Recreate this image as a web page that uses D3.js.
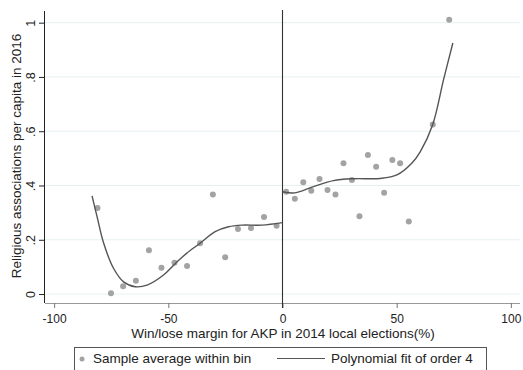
<!DOCTYPE html>
<html>
<head>
<meta charset="utf-8">
<script src="https://cdn.jsdelivr.net/npm/d3@7"></script>
<style>
  body { margin: 0; background: #fff; }
  text { font-family: "Liberation Sans", Arial, sans-serif; fill: #222; }
</style>
</head>
<body>
<div id="viz-container"></div>
<script>
// binned sample averages
const binX = [-81.0, -75.1, -69.8, -64.2, -58.5, -53.0, -47.3, -41.8, -36.1, -30.5, -25.1, -19.5, -13.8, -8.1, -2.6,
  1.6, 5.4, 9.1, 12.6, 16.2, 19.7, 23.2, 26.7, 30.4, 33.7, 37.4, 41.0, 44.5, 48.1, 51.5, 55.3, 65.8, 73.0];
const binY = [0.317, 0.003, 0.029, 0.049, 0.161, 0.097, 0.115, 0.103, 0.187, 0.367, 0.136, 0.240, 0.243, 0.284, 0.252,
  0.377, 0.351, 0.412, 0.381, 0.424, 0.383, 0.367, 0.482, 0.420, 0.287, 0.512, 0.469, 0.373, 0.494, 0.482, 0.267, 0.625, 1.011];

// polynomial fit (left and right of the cutoff)
const fitLeftX = [-83.4, -81.2, -78.3, -74.0, -69.6, -64.5, -59.3, -52.1, -47.0, -42.0, -36.1, -29.5, -23.6, -17.8, -9.0, 0];
const fitLeftY = [0.362, 0.285, 0.187, 0.095, 0.045, 0.027, 0.033, 0.070, 0.112, 0.150, 0.187, 0.230, 0.248, 0.254, 0.254, 0.263];
const fitRightX = [0, 5.5, 13.6, 22.3, 31.1, 42.8, 50.1, 56.6, 60.3, 65.8, 70.5, 74.6];
const fitRightY = [0.377, 0.373, 0.396, 0.418, 0.425, 0.426, 0.439, 0.482, 0.524, 0.625, 0.789, 0.925];

const xTicks = [-100, -50, 0, 50, 100];
const yTicks = [0, 0.2, 0.4, 0.6, 0.8, 1];
const yTickLabels = ['0', '.2', '.4', '.6', '.8', '1'];

const xTitle = 'Win/lose margin for AKP in 2014 local elections(%)';
const yTitle = 'Religious associations per capita in 2016';
const legendLabels = ['Sample average within bin', 'Polynomial fit of order 4'];

const W = 523, H = 370;
const plot = {left: 45, right: 520, top: 11, bottom: 303};

const svg = d3.select('#viz-container')
  .append('svg')
  .attr('width', W)
  .attr('height', H);

const x = d3.scaleLinear().domain([-104, 104]).range([plot.left, plot.right]);
const y = d3.scaleLinear().domain([-0.033, 1.043]).range([plot.bottom, plot.top]);

// gridlines
svg.append('g')
  .selectAll('line')
  .data(yTicks)
  .join('line')
  .attr('x1', plot.left)
  .attr('x2', plot.right)
  .attr('y1', d => y(d))
  .attr('y2', d => y(d))
  .attr('stroke', '#e6f0f1')
  .attr('stroke-width', 1);

// x axis
const xAxis = svg.append('g')
  .attr('transform', `translate(0,${plot.bottom})`)
  .call(d3.axisBottom(x).tickValues(xTicks).tickSize(5).tickPadding(6).tickFormat(d3.format('d')));
xAxis.select('.domain').attr('stroke', '#999').attr('d', `M${plot.left},0.5H${plot.right}`);
xAxis.selectAll('.tick line').attr('stroke', '#777');
xAxis.selectAll('.tick text')
  .style('font-size', '12px')
  .attr('fill', '#222')
  .text(d => d < 0 ? '-' + Math.abs(d) : d);

// y axis
const yAxis = svg.append('g')
  .attr('transform', `translate(${plot.left},0)`)
  .call(d3.axisLeft(y).tickValues(yTicks).tickSize(6).tickFormat((d, i) => yTickLabels[i]));
yAxis.select('.domain').attr('stroke', '#222').attr('d', `M-0.5,${plot.top}V${plot.bottom}`);
yAxis.selectAll('.tick line').attr('stroke', '#222');
yAxis.selectAll('.tick text')
  .style('font-size', '12.5px')
  .attr('fill', '#222')
  .attr('x', null)
  .attr('dy', null)
  .attr('text-anchor', 'middle')
  .attr('transform', 'translate(-10,0) rotate(-90)');

// cutoff line
svg.append('line')
  .attr('x1', x(0)).attr('x2', x(0))
  .attr('y1', 10).attr('y2', plot.bottom + 5)
  .attr('stroke', '#333')
  .attr('stroke-width', 1.1);

// bin points
svg.append('g')
  .selectAll('circle')
  .data(binX.map((d, i) => [d, binY[i]]))
  .join('circle')
  .attr('cx', d => x(d[0]))
  .attr('cy', d => y(d[1]))
  .attr('r', 3)
  .attr('fill', '#a3a3a3');

// fitted curves
const line = d3.line()
  .x(d => x(d[0]))
  .y(d => y(d[1]))
  .curve(d3.curveCatmullRom);
[[fitLeftX, fitLeftY], [fitRightX, fitRightY]].forEach(([fx, fy]) => {
  svg.append('path')
    .datum(fx.map((d, i) => [d, fy[i]]))
    .attr('d', line)
    .attr('fill', 'none')
    .attr('stroke', '#555')
    .attr('stroke-width', 1.4);
});

// axis titles
svg.append('text')
  .attr('x', 283)
  .attr('y', 337.5)
  .attr('text-anchor', 'middle')
  .style('font-size', '13.5px')
  .text(xTitle);
svg.append('text')
  .attr('transform', `translate(20.5,156)rotate(-90)`)
  .attr('text-anchor', 'middle')
  .style('font-size', '13.5px')
  .text(yTitle);

// legend
const legend = svg.append('g');
legend.append('rect')
  .attr('x', 74.5).attr('y', 347.5)
  .attr('width', 412).attr('height', 40)
  .attr('fill', '#fff')
  .attr('stroke', '#555');
legend.append('circle')
  .attr('cx', 82).attr('cy', 359)
  .attr('r', 2.5)
  .attr('fill', '#a3a3a3');
legend.append('text')
  .attr('x', 93).attr('y', 363)
  .style('font-size', '13.5px')
  .text(legendLabels[0]);
legend.append('line')
  .attr('x1', 277).attr('x2', 325)
  .attr('y1', 358.5).attr('y2', 358.5)
  .attr('stroke', '#555')
  .attr('stroke-width', 1.2);
legend.append('text')
  .attr('x', 331).attr('y', 363)
  .style('font-size', '13.5px')
  .text(legendLabels[1]);
</script>
</body>
</html>
